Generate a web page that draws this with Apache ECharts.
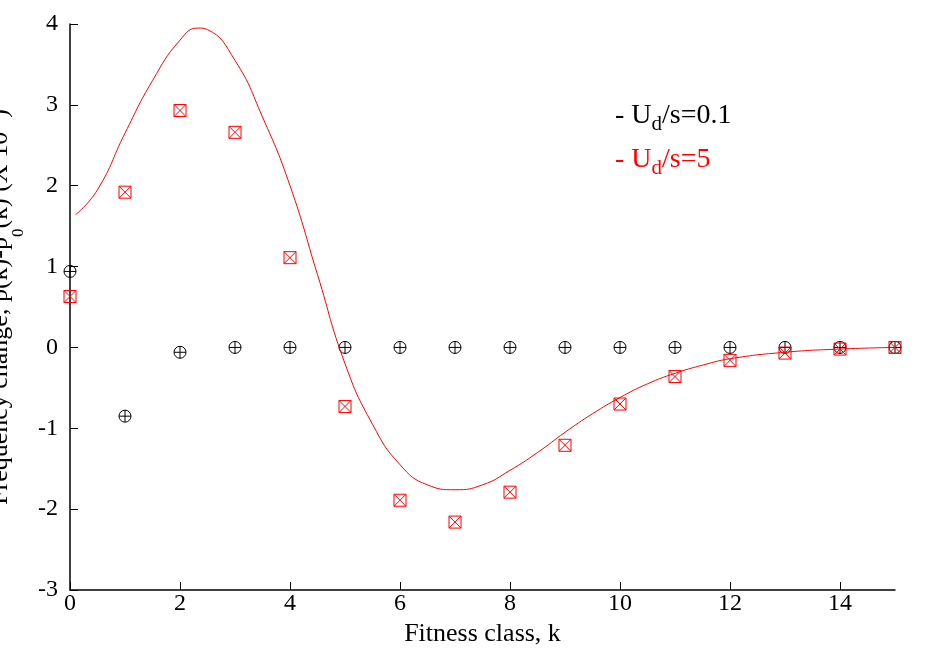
<!DOCTYPE html>
<html><head><meta charset="utf-8">
<script src="https://cdn.jsdelivr.net/npm/echarts@6/dist/echarts.min.js"></script>
<style>html,body{margin:0;background:#fff}#c{width:926px;height:649px}</style>
</head><body><div id="c"></div>
<script>
const classes = [0,1,2,3,4,5,6,7,8,9,10,11,12,13,14,15];
const lowU = [0.94,-0.85,-0.06,0,0,0,0,0,0,0,0,0,0,0,0,0];
const highU = [0.63,1.92,2.93,2.66,1.11,-0.73,-1.89,-2.16,-1.79,-1.21,-0.70,-0.36,-0.16,-0.07,-0.02,0];
const curveX = [0.1,0.5,1,1.5,2,2.33,2.5,3,3.5,4,4.5,5,5.5,6,6.5,7,7.5,8,8.5,9,9.5,10,10.5,11,11.5,12,13,14,15];
const curveY = [1.64,1.95,2.65,3.3,3.8,3.95,3.93,3.55,2.85,2.0,0.9,-0.2,-0.95,-1.45,-1.7,-1.76,-1.7,-1.52,-1.3,-1.05,-0.82,-0.62,-0.45,-0.32,-0.22,-0.14,-0.06,-0.02,0];

const font = '"Liberation Serif", "DejaVu Serif", serif';
const R = 6;
function marker(kind, color) {
  return function (params, api) {
    const p = api.coord([api.value(0), api.value(1)]);
    const st = { stroke: color, fill: 'none', lineWidth: 1 };
    const ch = [];
    if (kind === 'circle') {
      ch.push({ type: 'circle', shape: { cx: p[0], cy: p[1], r: R }, style: st });
      ch.push({ type: 'line', shape: { x1: p[0] - R, y1: p[1], x2: p[0] + R, y2: p[1] }, style: st });
      ch.push({ type: 'line', shape: { x1: p[0], y1: p[1] - R, x2: p[0], y2: p[1] + R }, style: st });
    } else {
      ch.push({ type: 'rect', shape: { x: p[0] - R, y: p[1] - R, width: 2 * R, height: 2 * R }, style: st });
      ch.push({ type: 'line', shape: { x1: p[0] - R, y1: p[1] - R, x2: p[0] + R, y2: p[1] + R }, style: st });
      ch.push({ type: 'line', shape: { x1: p[0] + R, y1: p[1] - R, x2: p[0] - R, y2: p[1] + R }, style: st });
    }
    return { type: 'group', children: ch };
  };
}

const chart = echarts.init(document.getElementById('c'));
chart.setOption({
  animation: false,
  grid: { left: 70, right: 31, top: 24, bottom: 59, containLabel: false, outerBoundsMode: 'none' },
  xAxis: {
    type: 'value', min: 0, max: 15, interval: 2,
    axisLine: { onZero: false, lineStyle: { color: '#000', width: 1.5 } },
    axisTick: { inside: true, length: 8, lineStyle: { color: '#000' } },
    axisLabel: { color: '#000', fontFamily: font, fontSize: 24, margin: 2, showMaxLabel: false },
    splitLine: { show: false },
    name: 'Fitness class, k', nameLocation: 'middle', nameGap: 26,
    nameTextStyle: { color: '#000', fontFamily: font, fontSize: 26 }
  },
  yAxis: {
    type: 'value', min: -3, max: 4, interval: 1,
    axisLine: { onZero: false, lineStyle: { color: '#000', width: 1.5 } },
    axisTick: { inside: true, length: 8, lineStyle: { color: '#000' } },
    axisLabel: { color: '#000', fontFamily: font, fontSize: 24, margin: 12 },
    splitLine: { show: false },
    name: 'Frequency change, p(k)-p{s|0}(k) (X 10{p|-4})', nameLocation: 'middle', nameGap: 46,
    nameTextStyle: {
      color: '#000', fontFamily: font, fontSize: 26,
      rich: {
        s: { fontFamily: font, fontSize: 17, color: '#000', verticalAlign: 'bottom', padding: [0, 0, -14, 0] },
        p: { fontFamily: font, fontSize: 17, color: '#000', verticalAlign: 'top', padding: [-10, 0, 0, 0] }
      }
    }
  },
  graphic: [
    { type: 'text', left: 615, top: 102, style: { text: '- U{s|d}/s=0.1', fill: '#000', font: '28px ' + font,
      rich: { s: { fontFamily: font, fontSize: 21, fill: '#000', padding: [0, 0, -16, 0] } } } },
    { type: 'text', left: 615, top: 146, style: { text: '- U{s|d}/s=5', fill: '#f00', font: '28px ' + font,
      rich: { s: { fontFamily: font, fontSize: 21, fill: '#f00', padding: [0, 0, -16, 0] } } } }
  ],
  series: [
    { type: 'line', data: curveX.map((x, i) => [x, curveY[i]]), smooth: true, showSymbol: false,
      lineStyle: { color: '#f00', width: 1 } },
    { type: 'custom', renderItem: marker('circle', '#000'), data: classes.map((k, i) => [k, lowU[i]]), clip: false },
    { type: 'custom', renderItem: marker('square', '#f00'), data: classes.map((k, i) => [k, highU[i]]), clip: false }
  ]
});
</script></body></html>
